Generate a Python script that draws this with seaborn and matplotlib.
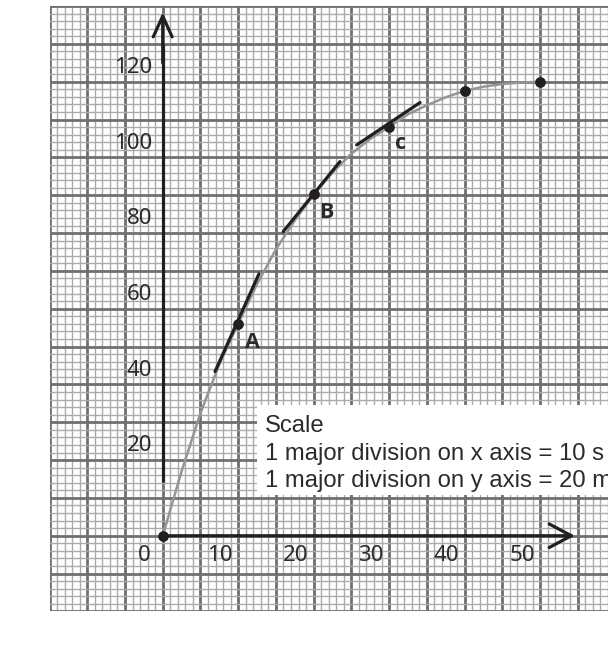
import matplotlib
matplotlib.use("Agg")
import matplotlib.pyplot as plt
from matplotlib.patches import Rectangle
from matplotlib.ticker import MultipleLocator
import seaborn as sns
import pandas as pd

# ---- data ----
time_points = [0, 10, 20, 30, 40, 50]
dist_points = [0, 56.0, 90.2, 108.1, 117.6, 120.0]

curve_time = [0, 2.5, 5, 7.5, 10, 12.5, 15, 17.5, 20, 22.5, 25, 27.5, 30,
              32.5, 35, 37.5, 40, 42.5, 45, 47.5, 50]
curve_dist = [0, 17.0, 32.4, 45.3, 56.0, 66.5, 75.7, 83.3, 90.2, 96.0, 101.0,
              104.9, 108.1, 111.4, 113.8, 115.9, 117.6, 118.7, 119.4, 119.8, 120.0]

tangent_names = ["A", "B", "c"]
tangent_time = [[6.93, 12.75], [15.97, 23.48], [25.7, 34.1]]
tangent_dist = [[43.4, 69.2], [80.4, 98.9], [103.3, 114.5]]
label_time = [11.9, 21.7, 31.5]
label_dist = [51.1, 85.4, 103.8]

x_ticks = [0, 10, 20, 30, 40, 50]
x_tick_labels = ["0", "10", "20", "30", "40", "50"]
y_ticks = [20, 40, 60, 80, 100, 120]
y_tick_labels = ["20", "40", "60", "80", "100", "120"]

scale_lines = ["Scale",
               "1 major division on x axis = 10 s",
               "1 major division on y axis = 20 m"]

# ---- style ----
sns.set_style("white")
plt.rcParams["font.family"] = ["Liberation Sans", "DejaVu Sans"]

DARK = "#231f20"
TEXT = "#2b2b2b"
MAJOR = "#6f6f6f"
MINOR = "#ababab"
CURVE = "#939598"

fig = plt.figure(figsize=(6.08, 6.62), dpi=100)
ax = fig.add_axes([49.5 / 608, 1 - 611.4 / 662, (608 - 49.5) / 608, (611.4 - 6.1) / 662])
ax.set_xlim(-15, 59)
ax.set_ylim(-20, 140)

# graph-paper grid
ax.xaxis.set_major_locator(MultipleLocator(5))
ax.xaxis.set_minor_locator(MultipleLocator(1))
ax.yaxis.set_major_locator(MultipleLocator(10))
ax.yaxis.set_minor_locator(MultipleLocator(2))
ax.set_axisbelow(True)
ax.grid(which="minor", color=MINOR, lw=1.0)
ax.grid(which="major", color=MAJOR, lw=2.0)
ax.tick_params(which="both", length=0, labelbottom=False, labelleft=False)
for s in ax.spines.values():
    s.set_visible(False)

# scale box
ax.add_patch(Rectangle((12.5, 10.8), 60, 23.7, facecolor="white",
                       edgecolor="none", zorder=1))
for line, yb in zip(scale_lines, [27.5, 20.0, 13.0]):
    ax.text(13.6, yb, line, fontsize=17.2, color=TEXT, va="baseline",
            ha="left", zorder=5, family=["Liberation Sans"])

# curve
curve_df = pd.DataFrame({"t": curve_time, "d": curve_dist})
sns.lineplot(data=curve_df, x="t", y="d", ax=ax, color=CURVE, lw=1.8,
             sort=False, zorder=2)

# tangents
for tt, dd in zip(tangent_time, tangent_dist):
    sns.lineplot(x=tt, y=dd, ax=ax, color=DARK, lw=2.3, sort=False, zorder=3)

# axes arrows
ax.plot([0, 0], [14.3, 130], color=DARK, lw=2.3, zorder=3,
        solid_capstyle="butt")
ax.annotate("", xy=(0, 138.4), xytext=(0, 125), zorder=3,
            arrowprops=dict(arrowstyle="->,head_length=1.5,head_width=0.68",
                            lw=2.3, color=DARK, shrinkA=0, shrinkB=0,
                            mutation_scale=10))
ax.annotate("", xy=(54.6, 0), xytext=(0, 0), zorder=3,
            arrowprops=dict(arrowstyle="->,head_length=1.6,head_width=0.85",
                            lw=2.3, color=DARK, shrinkA=0, shrinkB=0,
                            mutation_scale=10))

# points
pts_df = pd.DataFrame({"t": time_points, "d": dist_points})
sns.scatterplot(data=pts_df, x="t", y="d", ax=ax, color=DARK, s=60,
                edgecolor=DARK, linewidth=0, zorder=4)

# point labels
for name, lt, ld in zip(tangent_names, label_time, label_dist):
    ax.text(lt, ld, name, fontsize=15.5, fontweight="bold", color=TEXT,
            ha="center", va="center", family=["Open Sans"], zorder=5)

# tick labels
for t, lab in zip(x_ticks, x_tick_labels):
    ax.text(t - 2.4, -5.1, lab, fontsize=16, color=TEXT, ha="center",
            va="center", family=["Noto Sans"], zorder=5)
for d, lab in zip(y_ticks, y_tick_labels):
    ax.text(-1.42, d + 3.8, lab, fontsize=16, color=TEXT, ha="right",
            va="center", family=["Noto Sans"], zorder=5)

ax.set_xlabel("Time (s)", fontsize=16.5, color=TEXT)
ax.set_ylabel("Distance (m)", fontsize=16.5, color=TEXT)
ax.xaxis.set_label_coords((318 - 49.5) / 558.5, -(648 - 611.4) / 605.3)
ax.xaxis.label.set_va("center")
ax.yaxis.set_label_coords((22 - 49.5) / 558.5, (611.4 - 310) / 605.3)
ax.yaxis.label.set_va("center")

fig.savefig("out.png", dpi=100)
